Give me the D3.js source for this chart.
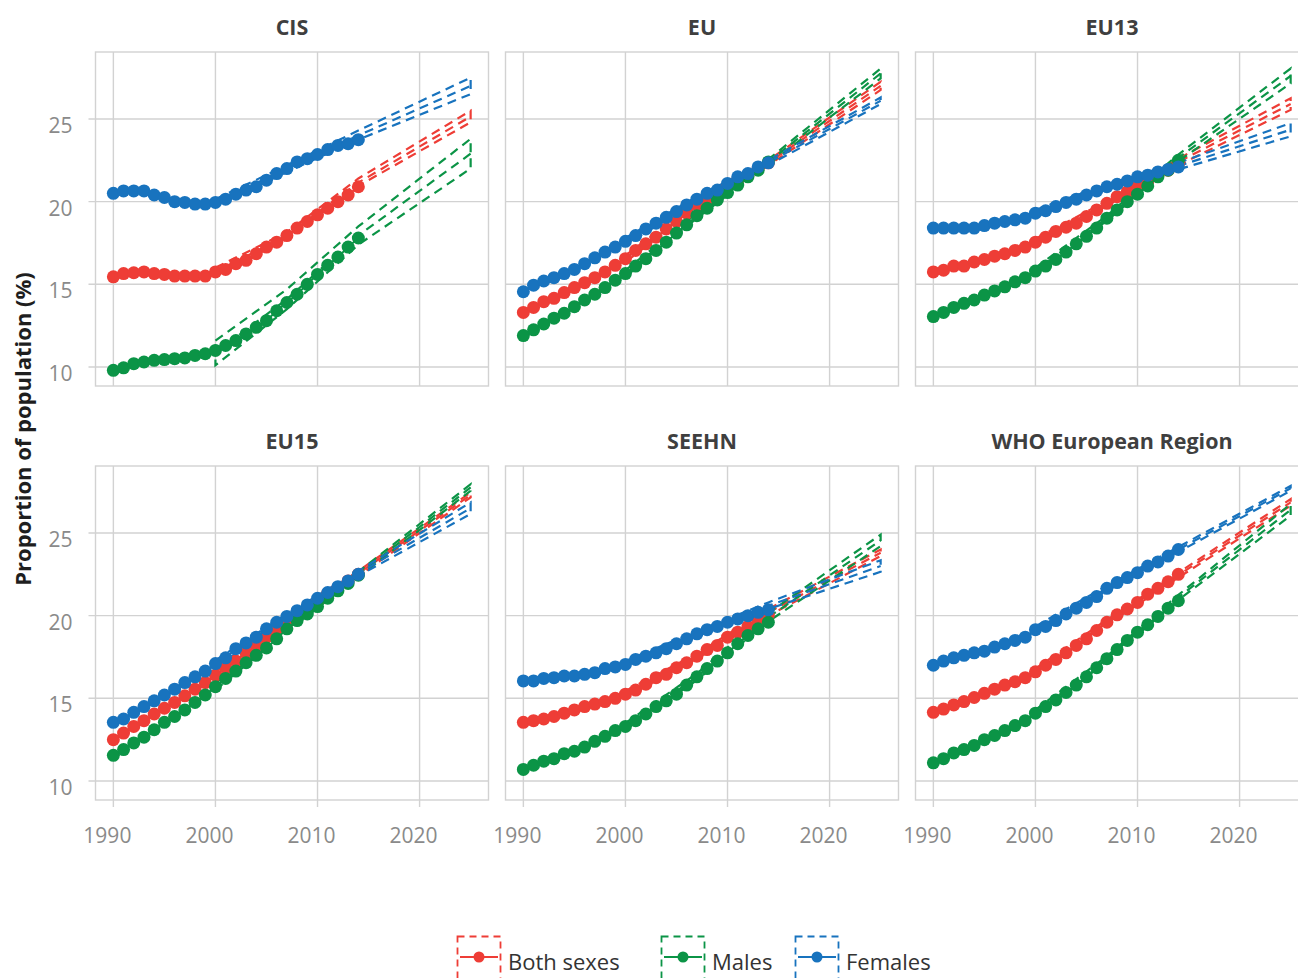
<!DOCTYPE html>
<html>
<head>
<meta charset="utf-8">
<script src="https://cdn.jsdelivr.net/npm/d3@7"></script>
<style>
  body { margin: 0; background: #fff; overflow: hidden; }
  text { font-family: "Open Sans", "Noto Sans", sans-serif; }
</style>
</head>
<body>
<svg id="chart" width="1298" height="978"></svg>
<script>
const years = [1990, 1991, 1992, 1993, 1994, 1995, 1996, 1997, 1998, 1999, 2000, 2001, 2002,
  2003, 2004, 2005, 2006, 2007, 2008, 2009, 2010, 2011, 2012, 2013, 2014];
const projYears = [2000, 2007, 2014, 2025];
const regions = ["CIS", "EU", "EU13", "EU15", "SEEHN", "WHO European Region"];
const sexes = ["Both sexes", "Males", "Females"];
const sexColors = ["#ee3d36", "#0b9446", "#1873be"];
const xTicks = [1990, 2000, 2010, 2020];
const yTicks = [10, 15, 20, 25];

// observed proportions 1990-2014
const cisBoth = [15.45, 15.65, 15.7, 15.75, 15.65, 15.6, 15.5, 15.5, 15.5, 15.5, 15.75, 15.9, 16.25, 16.45, 16.85, 17.25, 17.55, 17.95, 18.4, 18.8, 19.2, 19.6, 20.0, 20.4, 20.9];
const cisMales = [9.8, 9.95, 10.2, 10.3, 10.4, 10.45, 10.5, 10.55, 10.7, 10.8, 11.0, 11.3, 11.6, 12.0, 12.4, 12.8, 13.4, 13.9, 14.4, 15.0, 15.6, 16.15, 16.65, 17.25, 17.8];
const cisFemales = [20.5, 20.65, 20.65, 20.65, 20.4, 20.25, 20.0, 19.95, 19.85, 19.85, 19.95, 20.15, 20.45, 20.7, 20.9, 21.3, 21.7, 22.0, 22.4, 22.6, 22.85, 23.15, 23.4, 23.5, 23.75];

const euBoth = [13.3, 13.6, 13.95, 14.15, 14.5, 14.8, 15.1, 15.4, 15.75, 16.15, 16.55, 17.05, 17.45, 17.85, 18.35, 18.8, 19.3, 19.8, 20.15, 20.5, 20.95, 21.3, 21.6, 22.0, 22.35];
const euMales = [11.9, 12.25, 12.6, 12.95, 13.25, 13.65, 14.05, 14.4, 14.8, 15.25, 15.65, 16.1, 16.55, 17.05, 17.55, 18.1, 18.6, 19.15, 19.6, 20.1, 20.55, 21.0, 21.5, 21.9, 22.4];
const euFemales = [14.55, 14.95, 15.2, 15.4, 15.65, 15.9, 16.25, 16.6, 16.95, 17.25, 17.6, 17.95, 18.35, 18.7, 19.05, 19.4, 19.8, 20.15, 20.5, 20.7, 21.1, 21.5, 21.7, 22.1, 22.35];

const eu13Both = [15.75, 15.85, 16.1, 16.1, 16.35, 16.5, 16.7, 16.85, 17.05, 17.25, 17.55, 17.85, 18.2, 18.45, 18.7, 19.1, 19.5, 19.9, 20.3, 20.6, 20.9, 21.2, 21.6, 21.9, 22.3];
const eu13Males = [13.05, 13.3, 13.6, 13.85, 14.05, 14.35, 14.6, 14.85, 15.15, 15.4, 15.8, 16.1, 16.5, 16.95, 17.45, 17.9, 18.4, 19.0, 19.5, 20.0, 20.45, 20.95, 21.5, 21.9, 22.5];
const eu13Females = [18.4, 18.4, 18.4, 18.4, 18.4, 18.55, 18.7, 18.8, 18.9, 19.0, 19.3, 19.45, 19.7, 19.95, 20.15, 20.4, 20.65, 20.9, 21.05, 21.25, 21.5, 21.6, 21.8, 21.95, 22.1];

const eu15Both = [12.5, 12.9, 13.3, 13.65, 14.05, 14.4, 14.75, 15.15, 15.55, 15.95, 16.4, 16.85, 17.25, 17.75, 18.15, 18.7, 19.15, 19.6, 20.05, 20.5, 20.9, 21.35, 21.7, 22.1, 22.5];
const eu15Males = [11.55, 11.9, 12.3, 12.65, 13.1, 13.55, 13.9, 14.3, 14.75, 15.2, 15.7, 16.2, 16.65, 17.15, 17.6, 18.05, 18.6, 19.2, 19.7, 20.1, 20.55, 21.05, 21.5, 21.95, 22.45];
const eu15Females = [13.55, 13.75, 14.15, 14.5, 14.85, 15.2, 15.55, 15.95, 16.3, 16.65, 17.1, 17.45, 18.0, 18.35, 18.7, 19.2, 19.6, 19.95, 20.3, 20.65, 21.05, 21.4, 21.75, 22.1, 22.5];

const seehnBoth = [13.55, 13.65, 13.75, 13.9, 14.1, 14.3, 14.5, 14.65, 14.8, 15.0, 15.25, 15.5, 15.85, 16.25, 16.45, 16.85, 17.15, 17.55, 17.95, 18.2, 18.7, 19.0, 19.35, 19.75, 20.05];
const seehnMales = [10.7, 10.95, 11.2, 11.35, 11.65, 11.8, 12.05, 12.4, 12.7, 13.05, 13.3, 13.65, 14.05, 14.5, 14.85, 15.25, 15.8, 16.3, 16.8, 17.25, 17.75, 18.3, 18.8, 19.2, 19.6];
const seehnFemales = [16.05, 16.05, 16.2, 16.25, 16.35, 16.35, 16.45, 16.55, 16.8, 16.9, 17.05, 17.35, 17.55, 17.75, 18.0, 18.3, 18.6, 18.9, 19.15, 19.35, 19.6, 19.8, 20.0, 20.2, 20.35];

const whoBoth = [14.15, 14.35, 14.6, 14.8, 15.05, 15.3, 15.55, 15.8, 16.0, 16.25, 16.6, 17.0, 17.35, 17.75, 18.2, 18.6, 19.1, 19.6, 20.05, 20.4, 20.8, 21.3, 21.65, 22.05, 22.5];
const whoMales = [11.1, 11.35, 11.7, 11.9, 12.15, 12.5, 12.75, 13.05, 13.35, 13.65, 14.1, 14.5, 14.9, 15.35, 15.8, 16.3, 16.85, 17.4, 17.95, 18.5, 19.0, 19.45, 19.95, 20.45, 20.9];
const whoFemales = [17.0, 17.25, 17.45, 17.6, 17.75, 17.85, 18.1, 18.3, 18.5, 18.7, 19.15, 19.35, 19.7, 20.1, 20.45, 20.8, 21.15, 21.65, 22.0, 22.3, 22.6, 23.0, 23.25, 23.6, 24.0];

// projections at projYears: [lower, central, upper]
const cisBothProj = [[15.5, 15.75, 16.0], [17.75, 17.95, 18.15], [20.95, 21.15, 21.4], [24.8, 25.15, 25.5]];
const cisMalesProj = [[10.1, 10.85, 11.6], [13.5, 14.1, 14.7], [17.4, 17.95, 18.5], [22.0, 22.9, 23.8]];
const cisFemalesProj = [[19.75, 19.95, 20.15], [21.8, 22.0, 22.2], [23.75, 24.0, 24.3], [26.5, 27.0, 27.5]];
const euBothProj = [[16.35, 16.55, 16.75], [19.65, 19.8, 19.95], [22.2, 22.35, 22.5], [26.75, 27.0, 27.25]];
const euMalesProj = [[15.45, 15.65, 15.85], [19.0, 19.15, 19.3], [22.25, 22.4, 22.55], [27.45, 27.75, 28.05]];
const euFemalesProj = [[17.4, 17.6, 17.8], [20.0, 20.15, 20.3], [22.2, 22.35, 22.5], [25.9, 26.1, 26.3]];
const eu13BothProj = [[17.35, 17.55, 17.75], [19.75, 19.9, 20.05], [22.2, 22.4, 22.6], [25.55, 25.9, 26.25]];
const eu13MalesProj = [[15.6, 15.8, 16.0], [18.85, 19.0, 19.15], [22.45, 22.65, 22.85], [27.15, 27.6, 28.05]];
const eu13FemalesProj = [[19.1, 19.3, 19.5], [20.75, 20.9, 21.05], [21.95, 22.15, 22.35], [23.95, 24.35, 24.75]];
const eu15BothProj = [[16.2, 16.4, 16.6], [19.45, 19.6, 19.75], [22.4, 22.55, 22.7], [27.15, 27.3, 27.45]];
const eu15MalesProj = [[15.5, 15.7, 15.9], [19.05, 19.2, 19.35], [22.35, 22.5, 22.65], [27.55, 27.75, 27.95]];
const eu15FemalesProj = [[16.9, 17.1, 17.3], [19.8, 19.95, 20.1], [22.4, 22.55, 22.7], [26.15, 26.5, 26.85]];
const seehnBothProj = [[15.05, 15.25, 15.45], [17.4, 17.55, 17.7], [20.0, 20.2, 20.4], [23.6, 23.8, 24.0]];
const seehnMalesProj = [[13.1, 13.3, 13.5], [16.1, 16.3, 16.5], [19.65, 19.9, 20.15], [24.2, 24.55, 24.9]];
const seehnFemalesProj = [[16.85, 17.05, 17.25], [18.75, 18.9, 19.05], [20.4, 20.6, 20.8], [22.65, 23.0, 23.35]];
const whoBothProj = [[16.4, 16.6, 16.8], [19.45, 19.6, 19.75], [22.3, 22.45, 22.6], [26.65, 26.85, 27.05]];
const whoMalesProj = [[13.9, 14.1, 14.3], [17.25, 17.4, 17.55], [20.95, 21.1, 21.25], [26.05, 26.4, 26.75]];
const whoFemalesProj = [[18.95, 19.15, 19.35], [21.5, 21.65, 21.8], [23.85, 24.0, 24.15], [27.55, 27.7, 27.85]];

const observed = [
  [cisBoth, cisMales, cisFemales],
  [euBoth, euMales, euFemales],
  [eu13Both, eu13Males, eu13Females],
  [eu15Both, eu15Males, eu15Females],
  [seehnBoth, seehnMales, seehnFemales],
  [whoBoth, whoMales, whoFemales]
];
const projected = [
  [cisBothProj, cisMalesProj, cisFemalesProj],
  [euBothProj, euMalesProj, euFemalesProj],
  [eu13BothProj, eu13MalesProj, eu13FemalesProj],
  [eu15BothProj, eu15MalesProj, eu15FemalesProj],
  [seehnBothProj, seehnMalesProj, seehnFemalesProj],
  [whoBothProj, whoMalesProj, whoFemalesProj]
];

const svg = d3.select("#chart");
const panelW = 393, panelH = 334;
const colX = [95.5, 505.5, 915.5];
const rowY = [52, 466];
const gridColor = "#d2d2d2";

const x = d3.scaleLinear().domain([1988.25, 2026.75]).range([0, panelW]);
const y = d3.scaleLinear().domain([8.85, 29.05]).range([panelH, 0]);

const band = d3.area()
  .x(function(d) { return x(d.year); })
  .y0(function(d) { return y(d.lo); })
  .y1(function(d) { return y(d.hi); });
const midLine = d3.line()
  .x(function(d) { return x(d.year); })
  .y(function(d) { return y(d.mid); });
const obsLine = d3.line()
  .x(function(d) { return x(d.year); })
  .y(function(d) { return y(d.value); });

regions.forEach(function(region, r) {
  const col = r % 3, row = Math.floor(r / 3);
  const g = svg.append("g")
    .attr("transform", "translate(" + colX[col] + "," + rowY[row] + ")");

  g.selectAll(".vgrid").data(xTicks).enter().append("line")
    .attr("x1", d => x(d)).attr("x2", d => x(d))
    .attr("y1", 0).attr("y2", row === 1 ? panelH + 7 : panelH)
    .attr("stroke", gridColor).attr("stroke-width", 1.4);
  g.selectAll(".hgrid").data(yTicks).enter().append("line")
    .attr("x1", col === 0 ? -7 : 0).attr("x2", panelW)
    .attr("y1", d => y(d)).attr("y2", d => y(d))
    .attr("stroke", gridColor).attr("stroke-width", 1.4);
  g.append("rect")
    .attr("width", panelW).attr("height", panelH)
    .attr("fill", "none").attr("stroke", gridColor).attr("stroke-width", 1.4);

  g.append("text")
    .attr("x", panelW / 2).attr("y", -17)
    .attr("text-anchor", "middle")
    .attr("font-size", 21.5).attr("font-weight", 700).attr("fill", "#3f3f3f")
    .text(region);

  if (col === 0) {
    g.selectAll(".ylab").data(yTicks).enter().append("text")
      .attr("x", -23).attr("y", d => y(d) + 14)
      .attr("text-anchor", "end")
      .attr("font-size", 21).attr("fill", "#8a8a8a")
      .text(d => d);
  }
  if (row === 1) {
    g.selectAll(".xlab").data(xTicks).enter().append("text")
      .attr("x", d => x(d) - 6).attr("y", panelH + 43)
      .attr("text-anchor", "middle")
      .attr("font-size", 21).attr("fill", "#8a8a8a")
      .text(d => d);
  }

  sexes.forEach(function(sex, s) {
    const proj = projected[r][s].map(function(p, i) {
      return {year: projYears[i], lo: p[0], mid: p[1], hi: p[2]};
    });
    g.append("path")
      .attr("d", band(proj))
      .attr("fill", "none")
      .attr("stroke", sexColors[s]).attr("stroke-width", 2.2)
      .attr("stroke-dasharray", "9,6");
    g.append("path")
      .attr("d", midLine(proj))
      .attr("fill", "none")
      .attr("stroke", sexColors[s]).attr("stroke-width", 2.2)
      .attr("stroke-dasharray", "9,6");
  });

  sexes.forEach(function(sex, s) {
    const pts = observed[r][s].map(function(v, i) { return {year: years[i], value: v}; });
    g.append("path")
      .attr("d", obsLine(pts))
      .attr("fill", "none")
      .attr("stroke", sexColors[s]).attr("stroke-width", 2);
    g.selectAll(".pt" + s).data(pts).enter().append("circle")
      .attr("cx", d => x(d.year)).attr("cy", d => y(d.value))
      .attr("r", 6.5)
      .attr("fill", sexColors[s]);
  });
});

svg.append("text")
  .attr("transform", "translate(31," + 429 + ") rotate(-90)")
  .attr("text-anchor", "middle")
  .attr("font-size", 22).attr("font-weight", 700).attr("fill", "#1e1e1e")
  .text("Proportion of population (%)");

// legend
const legendX = [457, 661, 795];
const legend = svg.selectAll(".legend").data(sexes).enter().append("g")
  .attr("transform", function(d, i) { return "translate(" + legendX[i] + ",936)"; });
legend.append("rect")
  .attr("x", 0.5).attr("y", 0.5).attr("width", 43).attr("height", 44)
  .attr("fill", "none")
  .attr("stroke", (d, i) => sexColors[i]).attr("stroke-width", 1.8)
  .attr("stroke-dasharray", "7,5");
legend.append("line")
  .attr("x1", 3).attr("x2", 41).attr("y1", 21).attr("y2", 21)
  .attr("stroke", (d, i) => sexColors[i]).attr("stroke-width", 2);
legend.append("circle")
  .attr("cx", 22).attr("cy", 21).attr("r", 5.5)
  .attr("fill", (d, i) => sexColors[i]);
legend.append("text")
  .attr("x", 51).attr("y", 34)
  .attr("font-size", 22).attr("fill", "#333")
  .text(d => d);
</script>
</body>
</html>
